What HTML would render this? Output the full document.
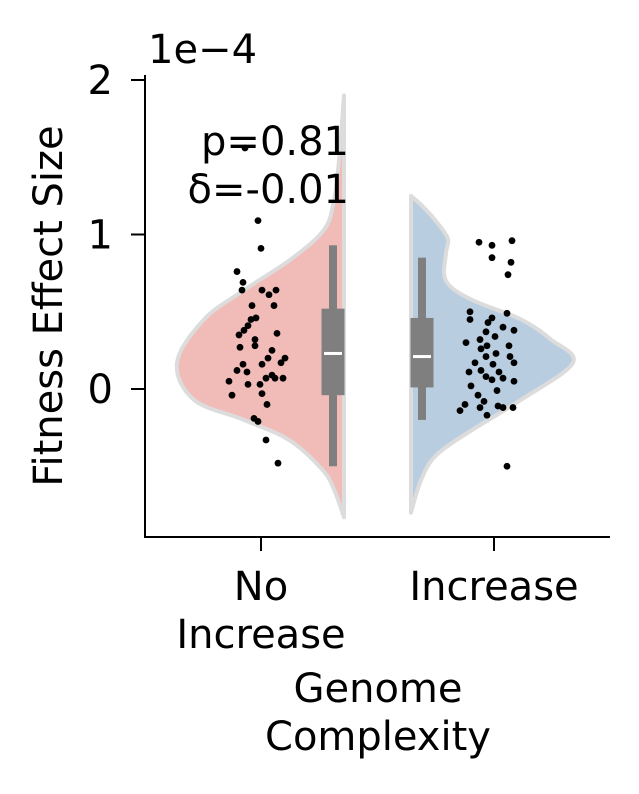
<!DOCTYPE html>
<html><head><meta charset="utf-8"><style>
html,body{margin:0;padding:0;background:#fff}
svg text{font-family:"DejaVu Sans","Liberation Sans",sans-serif;fill:#000}
</style></head><body>
<svg id="c" width="639" height="794" viewBox="0 0 639 794" xmlns="http://www.w3.org/2000/svg" style="position:absolute;left:0;top:0"></svg>
<script>
// ---- data (values in units of 1e-4) ----
const categories = ["No Increase", "Increase"];
const yTicks = [0, 1, 2];
const gridNo = [-0.83,-0.65,-0.52,-0.33,-0.2,-0.07,0.17,0.45,0.64,0.84,1.03,1.22,1.48,1.9];
const densNo = [0,10,22,55,100,150,167,140,100,53,20,10,5,0];
const gridInc = [-0.8,-0.59,-0.43,-0.27,-0.07,0.17,0.32,0.45,0.58,0.7,0.88,0.97,1.07,1.18,1.25];
const densInc = [0,10,25,60,110,162,140,110,60,35,35,37,27,12,0];
const boxNo = {wlo:-0.5, q1:-0.04, med:0.23, q3:0.52, whi:0.93};
const boxInc = {wlo:-0.2, q1:0.01, med:0.21, q3:0.46, whi:0.85};
const ptsNo = [1.56,1.09,0.91,0.76,0.69,0.64,0.64,0.64,0.61,0.54,0.54,0.46,0.45,0.41,0.38,0.35,0.32,0.36,0.27,0.28,0.25,0.20,0.20,0.17,0.16,0.16,0.12,0.11,0.09,0.07,0.07,0.07,0.03,0.03,0.05,-0.04,-0.03,-0.19,-0.21,-0.33,-0.48,-0.10];
const jitNo = [-16,-3,0,-24,-18,-19,1,15,8,-9,13,-5,-10,-13,-17,-22,-6,16,-21,-6,11,7,24,20,-18,1,-24,-14,11,22,5,14,-1,-13,-32,-29,1,-7,-3,5,17,6];
const ptsInc = [0.95,0.96,0.93,0.85,0.82,0.74,0.50,0.49,0.46,0.45,0.43,0.40,0.38,0.37,0.34,0.32,0.30,0.28,0.28,0.26,0.23,0.21,0.21,0.17,0.17,0.16,0.12,0.11,0.11,0.08,0.07,0.06,0.05,0.02,-0.01,-0.04,-0.08,-0.10,-0.11,-0.12,-0.12,-0.12,-0.14,-0.17,-0.50];
const jitInc = [-15,18,-2,-2,17,14,-24,13,-2,-24,-6,9,20,-8,1,-14,-28,-7,15,-13,2,-8,16,20,-19,-1,-13,-25,5,-8,9,-2,20,-23,3,-16,-10,-29,4,9,-14,19,-34,-7,13];

const NS="http://www.w3.org/2000/svg";
const svg=document.getElementById('c');
function el(tag,attrs,parent){const e=document.createElementNS(NS,tag);for(const k in attrs)e.setAttribute(k,attrs[k]);(parent||svg).appendChild(e);return e;}
const y0=389, ppu=154.5;
const yS=v=>y0-v*ppu;
const xCat=[261,494];

function smooth(pts){
  let d=`M${pts[0][0]},${pts[0][1]}`;
  for(let i=0;i<pts.length-1;i++){
    const p0=pts[Math.max(0,i-1)],p1=pts[i],p2=pts[i+1],p3=pts[Math.min(pts.length-1,i+2)];
    const c1=[p1[0]+(p2[0]-p0[0])/6,p1[1]+(p2[1]-p0[1])/6];
    const c2=[p2[0]-(p3[0]-p1[0])/6,p2[1]-(p3[1]-p1[1])/6];
    d+=` C${c1[0]},${c1[1]} ${c2[0]},${c2[1]} ${p2[0]},${p2[1]}`;
  }
  return d;
}
function violin(grid,dens,edge,dir,fill,name){
  const pts=grid.map((g,i)=>[edge+dir*dens[i],yS(g)]);
  const d=smooth(pts)+' Z';
  const p=el('path',{d:d,fill:fill,stroke:'#dcdcdc','stroke-width':4,'stroke-linejoin':'round'});
  
  
}
violin(gridNo,densNo,344,-1,'#f1bbb8','violin-no-increase');
violin(gridInc,densInc,411,1,'#b9cde0','violin-increase');

function box(b,cx,name){
  const g=el('g',{});
  
  
  el('rect',{x:cx-4,y:yS(b.whi),width:8,height:yS(b.wlo)-yS(b.whi),fill:'#7f7f7f'},g);
  el('rect',{x:cx-11.5,y:yS(b.q3),width:23,height:yS(b.q1)-yS(b.q3),fill:'#7f7f7f'},g);
  el('rect',{x:cx-9,y:yS(b.med)-1.5,width:18,height:3,fill:'#fff'},g);
}
box(boxNo,333,'box-no-increase');
box(boxInc,422,'box-increase');

function points(vals,jit,cx,name){
  const g=el('g',{});
  
  
  vals.forEach((v,i)=>{const c=el('circle',{cx:cx+jit[i],cy:yS(v),r:3.4,fill:'#000'},g);
    
    });
}
points(ptsNo,jitNo,261,'points-no-increase');
points(ptsInc,jitInc,494,'points-increase');

const ax=el('path',{d:'M145,75 L145,537 L610,537',fill:'none',stroke:'#000','stroke-width':2});


yTicks.forEach(t=>{
  el('line',{x1:131,x2:145,y1:yS(t),y2:yS(t),stroke:'#000','stroke-width':2});
  const tx=el('text',{x:113,y:yS(t)+14,'font-size':40,'text-anchor':'end'});
  tx.textContent=t;
  
  
});
xCat.forEach(x=>el('line',{x1:x,x2:x,y1:537,y2:551,stroke:'#000','stroke-width':2}));
</script>
<svg width="639" height="794" style="position:absolute;left:0;top:0">
<text x="148" y="63" font-size="40">1e−4</text>
<text x="349" y="155" font-size="40" text-anchor="end">p=0.81</text>
<text x="349" y="203" font-size="40" text-anchor="end">δ=-0.01</text>
<text transform="translate(62,306) rotate(-90)" font-size="40" text-anchor="middle">Fitness Effect Size</text>
<text x="261" y="600" font-size="40" text-anchor="middle">No</text>
<text x="261" y="648" font-size="40" text-anchor="middle">Increase</text>
<text x="494" y="600" font-size="40" text-anchor="middle">Increase</text>
<text x="378" y="702" font-size="40" text-anchor="middle">Genome</text>
<text x="378" y="750" font-size="40" text-anchor="middle">Complexity</text>
</svg>
</body></html>
